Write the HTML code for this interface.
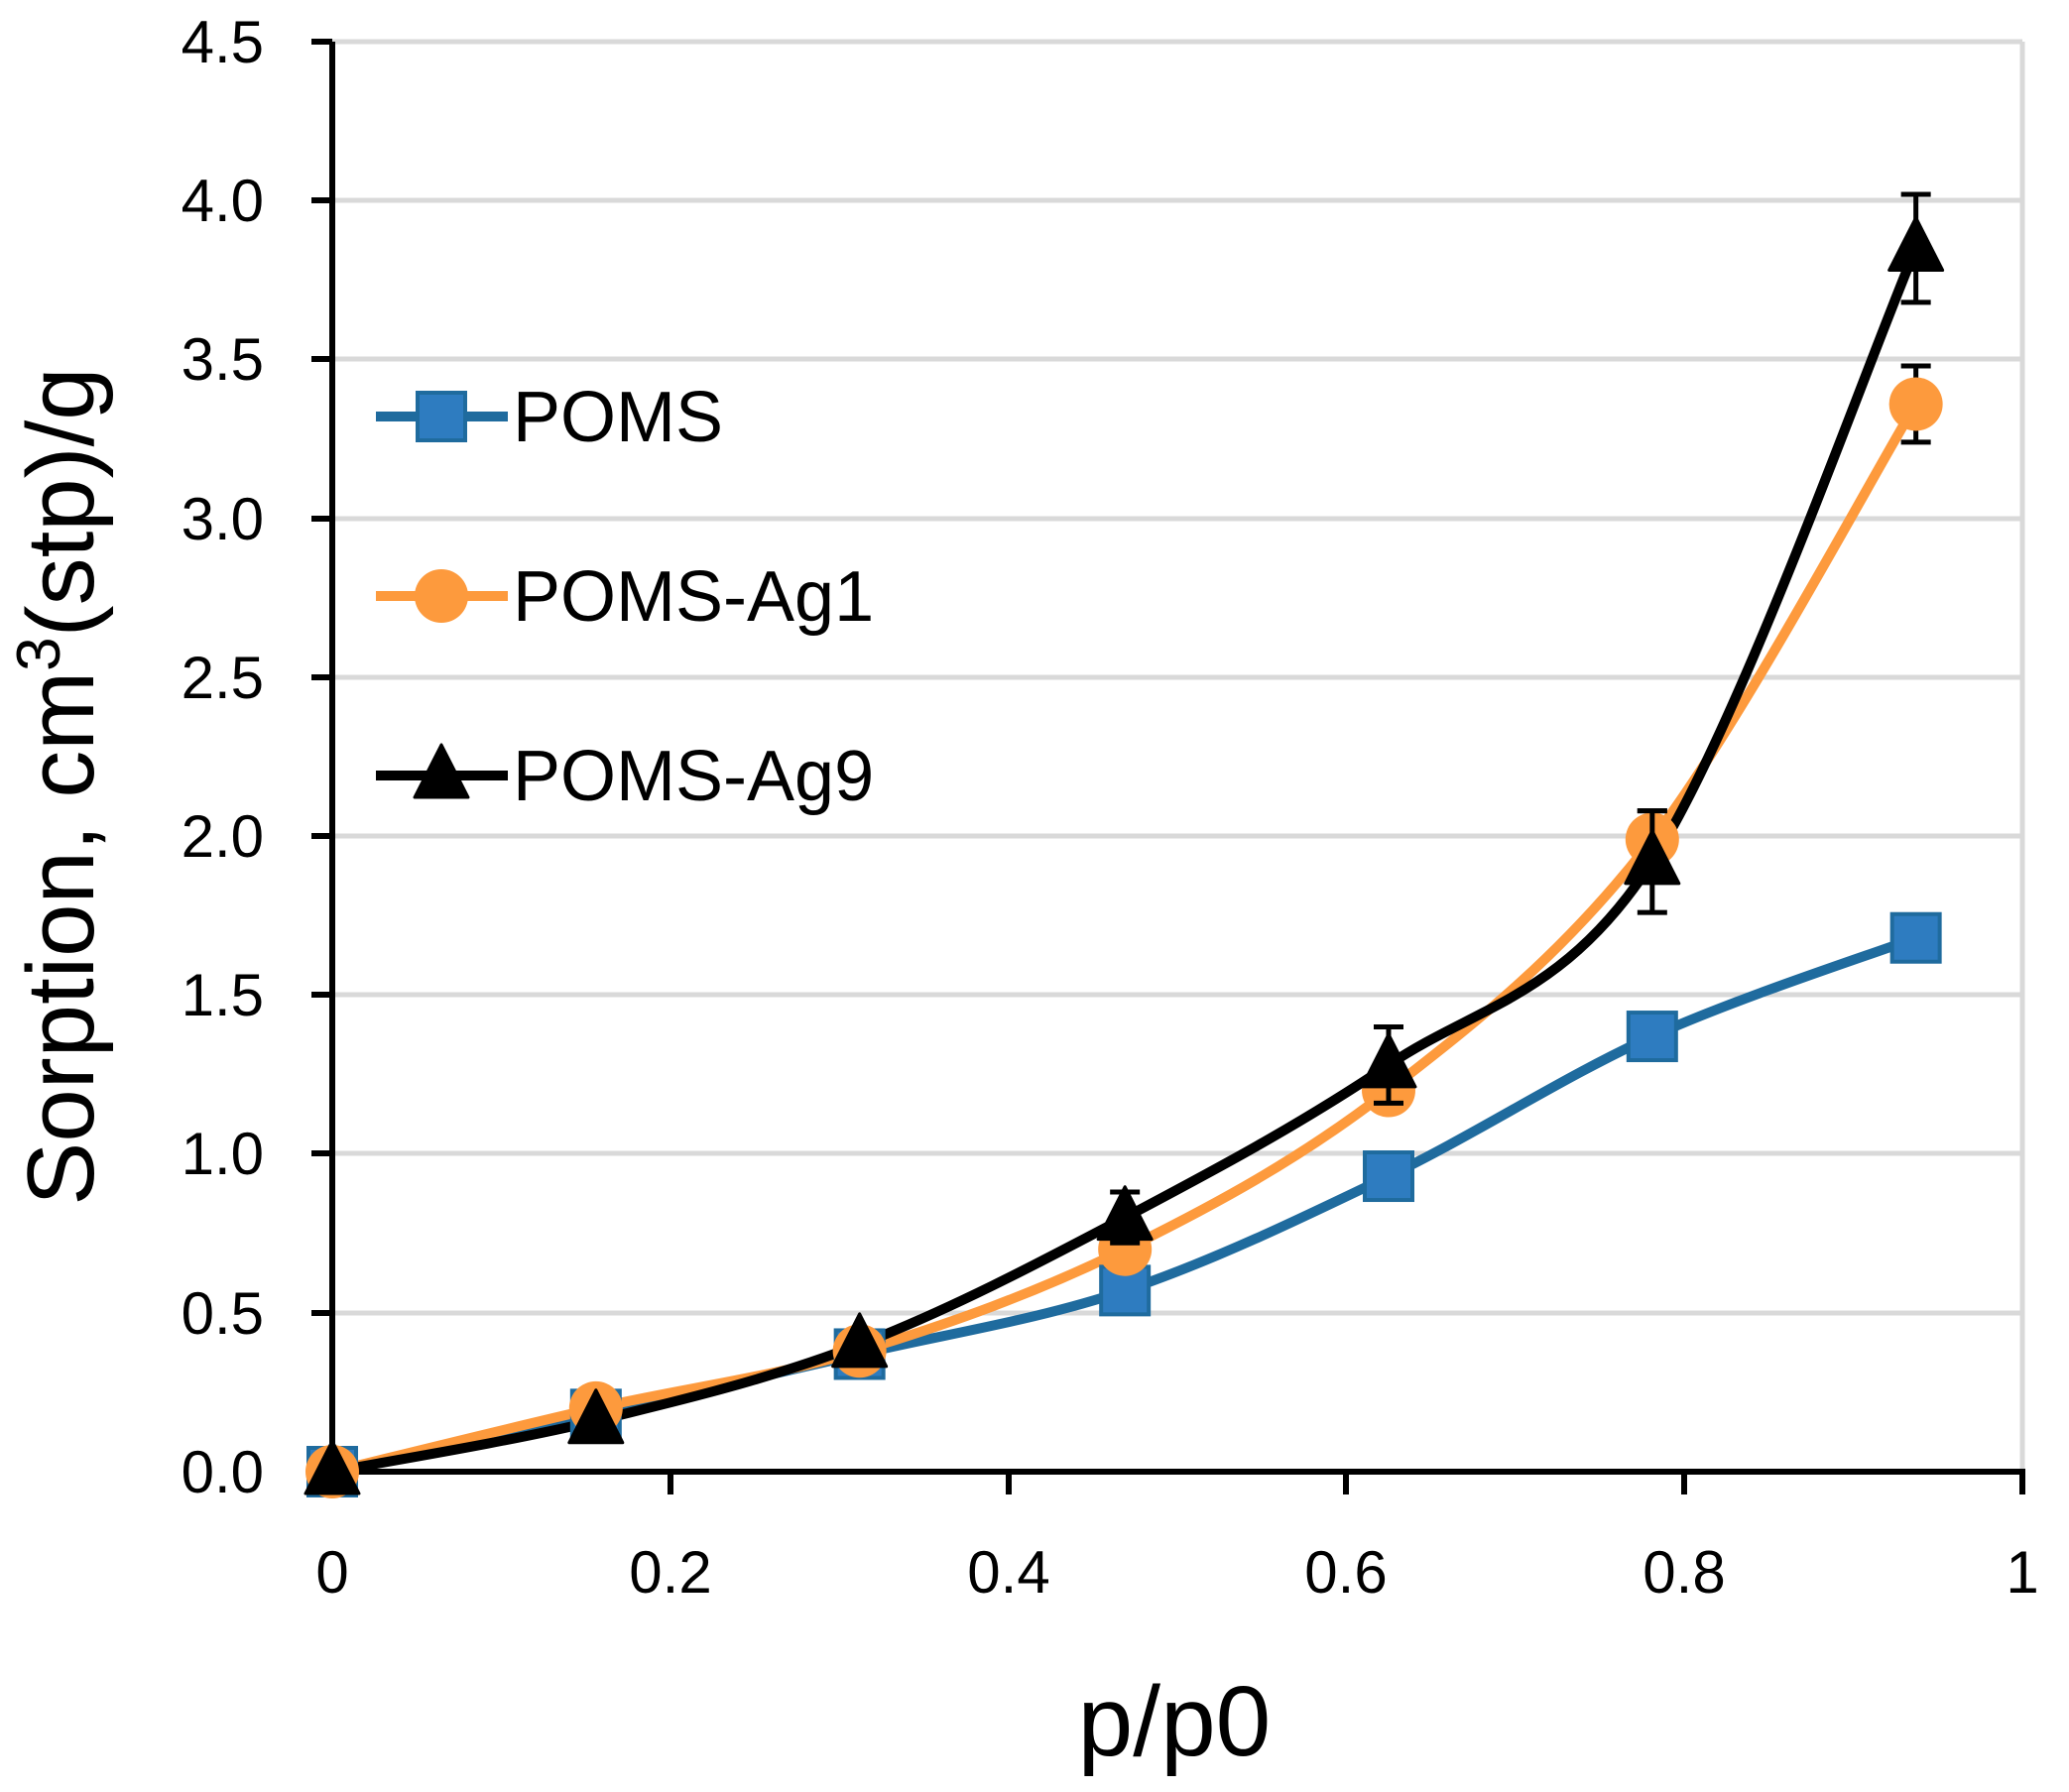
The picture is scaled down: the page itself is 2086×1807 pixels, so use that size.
<!DOCTYPE html>
<html><head><meta charset="utf-8"><style>
html,body{margin:0;padding:0;background:#fff}
svg{display:block}
text{font-family:"Liberation Sans","DejaVu Sans",sans-serif;fill:#000}
</style></head><body>
<svg id="s" width="2086" height="1807" viewBox="0 0 2086 1807">
<g stroke="#d9d9d9" stroke-width="5">
<line x1="335" y1="42" x2="2039" y2="42"/>
<line x1="335" y1="202" x2="2039" y2="202"/>
<line x1="335" y1="362" x2="2039" y2="362"/>
<line x1="335" y1="523" x2="2039" y2="523"/>
<line x1="335" y1="683" x2="2039" y2="683"/>
<line x1="335" y1="843" x2="2039" y2="843"/>
<line x1="335" y1="1003" x2="2039" y2="1003"/>
<line x1="335" y1="1163" x2="2039" y2="1163"/>
<line x1="335" y1="1324" x2="2039" y2="1324"/>
<line x1="2039" y1="42" x2="2039" y2="1484"/>
</g>
<g stroke="#000" stroke-width="6">
<line x1="335" y1="42" x2="335" y2="1487"/>
<line x1="332" y1="1484" x2="2042" y2="1484"/>
<line x1="314" y1="42" x2="335" y2="42"/><line x1="314" y1="202" x2="335" y2="202"/><line x1="314" y1="362" x2="335" y2="362"/><line x1="314" y1="523" x2="335" y2="523"/><line x1="314" y1="683" x2="335" y2="683"/><line x1="314" y1="843" x2="335" y2="843"/><line x1="314" y1="1003" x2="335" y2="1003"/><line x1="314" y1="1163" x2="335" y2="1163"/><line x1="314" y1="1324" x2="335" y2="1324"/><line x1="314" y1="1484" x2="335" y2="1484"/>
<line x1="676" y1="1484" x2="676" y2="1507"/><line x1="1017" y1="1484" x2="1017" y2="1507"/><line x1="1357" y1="1484" x2="1357" y2="1507"/><line x1="1698" y1="1484" x2="1698" y2="1507"/><line x1="2039" y1="1484" x2="2039" y2="1507"/>
</g>
<g font-size="60" text-anchor="end">
<text x="266" y="63">4.5</text><text x="266" y="223">4.0</text><text x="266" y="383">3.5</text><text x="266" y="544">3.0</text><text x="266" y="704">2.5</text><text x="266" y="864">2.0</text><text x="266" y="1024">1.5</text><text x="266" y="1184">1.0</text><text x="266" y="1345">0.5</text><text x="266" y="1505">0.0</text>
</g>
<g font-size="60" text-anchor="middle">
<text x="335" y="1606">0</text><text x="676" y="1606">0.2</text><text x="1017" y="1606">0.4</text><text x="1357" y="1606">0.6</text><text x="1698" y="1606">0.8</text><text x="2039" y="1606">1</text>
</g>
<text x="1184" y="1770" font-size="100" text-anchor="middle">p/p0</text>
<text transform="translate(94,793) rotate(-90)" font-size="96" text-anchor="middle">Sorption, cm<tspan font-size="62" dy="-34">3</tspan><tspan dy="34">(stp)/g</tspan></text>
<g id="series"></g>
<g font-size="72">
<text x="517" y="445">POMS</text><text x="517" y="626">POMS-Ag1</text><text x="517" y="807">POMS-Ag9</text>
</g>
</svg>
<script>
var X=function(v){return 335+v*1704},Y=function(v){return 1484-v*320.4};
var xs=[0,0.156,0.312,0.469,0.625,0.781,0.937];
var data=[
{c:"#1f6b9e",f:"#2e7cc0",m:"sq",y:[0,0.18,0.37,0.57,0.93,1.37,1.68],e:[]},
{c:"#fd9a3d",f:"#fd9a3d",m:"ci",y:[0,0.2,0.38,0.7,1.2,1.99,3.36],e:[0,0,0,0,0,0.09,0.12]},
{c:"#000",f:"#000",m:"tr",y:[0,0.16,0.4,0.8,1.28,1.92,3.85],e:[0,0,0,0.08,0.12,0.16,0.17]}];
var ns="http://www.w3.org/2000/svg",g=document.getElementById("series");
function el(t,a){var e=document.createElementNS(ns,t);for(var k in a)e.setAttribute(k,a[k]);g.appendChild(e);return e}
function marker(m,x,y,c,f){
 if(m=="sq")el("rect",{x:x-24,y:y-24,width:48,height:48,fill:f,stroke:c,"stroke-width":4});
 else if(m=="ci")el("circle",{cx:x,cy:y,r:27,fill:f});
 else el("polygon",{points:(x)+","+(y-31)+" "+(x-27)+","+(y+22)+" "+(x+27)+","+(y+22),fill:f,stroke:f,"stroke-width":3,"stroke-linejoin":"round"});
}
data.forEach(function(s){
 var p=xs.map(function(x,i){return[X(x),Y(s.y[i])]});
 var d="M"+p[0];
 for(var i=0;i<p.length-1;i++){var p0=p[i-1]||p[i],p1=p[i],p2=p[i+1],p3=p[i+2]||p2;
  d+=" C"+(p1[0]+(p2[0]-p0[0])/6)+","+(p1[1]+(p2[1]-p0[1])/6)+" "+(p2[0]-(p3[0]-p1[0])/6)+","+(p2[1]-(p3[1]-p1[1])/6)+" "+p2[0]+","+p2[1];}
 el("path",{d:d,fill:"none",stroke:s.c,"stroke-width":10,"stroke-linejoin":"round"});
});
data.forEach(function(s){
 xs.forEach(function(x,i){var e=s.e[i];if(e){var a=X(x),t=Y(s.y[i]+e),b=Y(s.y[i]-e);
  el("line",{x1:a,y1:t,x2:a,y2:b,stroke:"#000","stroke-width":5});
  el("line",{x1:a-15,y1:t,x2:a+15,y2:t,stroke:"#000","stroke-width":5});
  el("line",{x1:a-15,y1:b,x2:a+15,y2:b,stroke:"#000","stroke-width":5});}});
 xs.forEach(function(x,i){marker(s.m,X(x),Y(s.y[i]),s.c,s.f)});
});
[[420,0],[601,1],[782,2]].forEach(function(l){var s=data[l[1]];
 el("line",{x1:379,y1:l[0],x2:512,y2:l[0],stroke:s.c,"stroke-width":10});
 marker(s.m,445,l[0],s.c,s.f);});
</script>
</body></html>
